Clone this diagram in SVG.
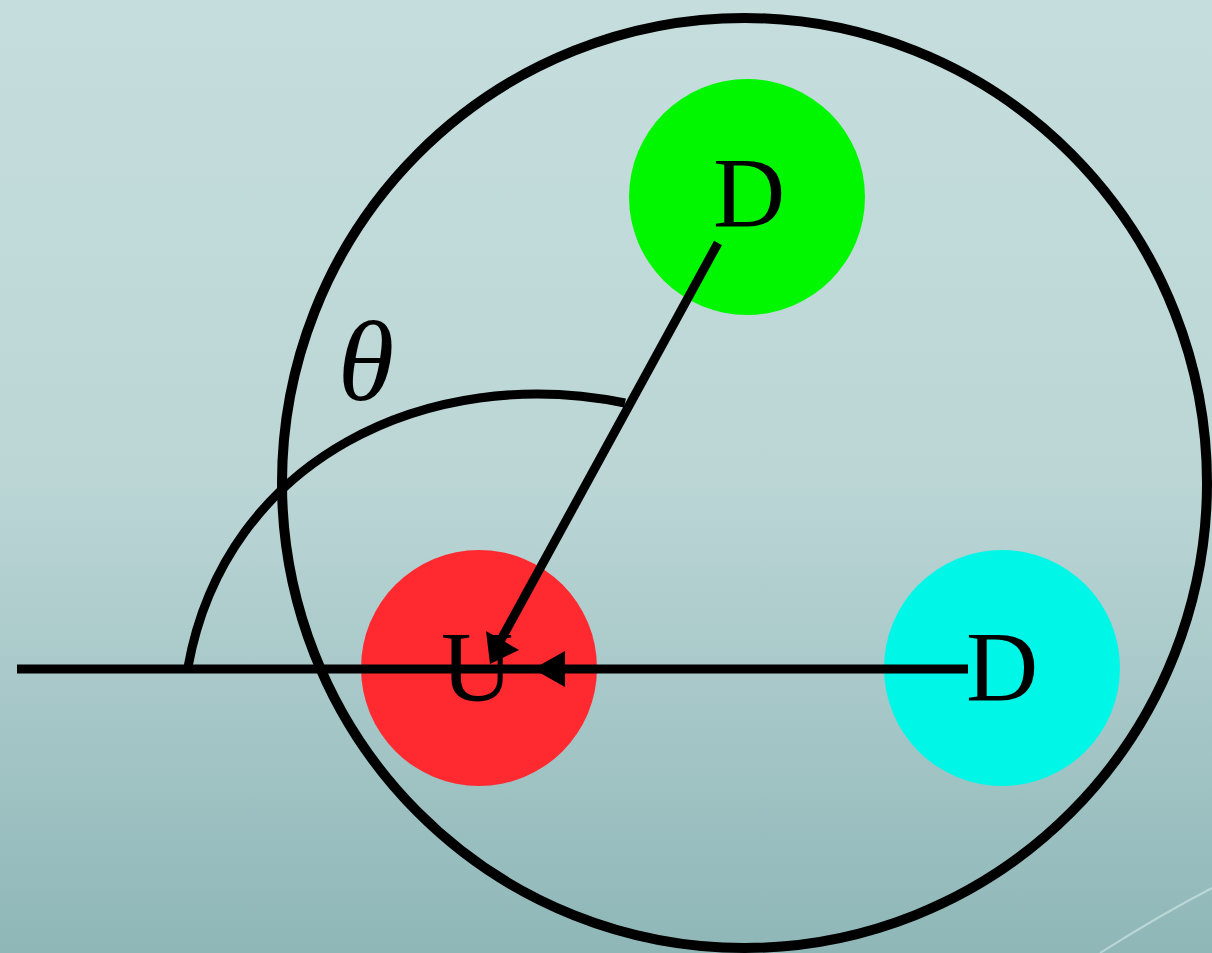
<svg xmlns="http://www.w3.org/2000/svg" width="1212" height="953" viewBox="0 0 1212 953">
<defs>
<linearGradient id="bg" x1="0" y1="0" x2="0" y2="1">
<stop offset="0" stop-color="#c5dddd"/>
<stop offset="0.5" stop-color="#bcd6d6"/>
<stop offset="1" stop-color="#8fb7b8"/>
</linearGradient>
<style>
.lbl{font-family:"Liberation Serif","DejaVu Serif",serif;font-size:100px;fill:#000;text-anchor:middle}
.ln{stroke:#000;stroke-width:9;fill:none}
</style>
</defs>
<rect width="1212" height="953" fill="url(#bg)"/>
<path d="M1100,953 Q1160,915 1212,888" stroke="#d6eaea" stroke-width="2" fill="none" opacity="0.6"/>
<g id="outer">
<ellipse cx="744.5" cy="483" rx="462.5" ry="465" fill="none" stroke="#000" stroke-width="10"/>
</g>
<g id="nodeD1">
<circle cx="747" cy="197" r="118" fill="#00f700"/>
<text class="lbl" x="749" y="226">D</text>
</g>
<g id="nodeU">
<circle cx="479" cy="668" r="118" fill="#ff2a30"/>
<text class="lbl" x="477" y="700">U</text>
</g>
<g id="nodeD2">
<circle cx="1002" cy="668" r="118" fill="#00f7e8"/>
<text class="lbl" x="1002" y="700">D</text>
</g>
<g id="connectors">
<line class="ln" x1="17" y1="669" x2="968" y2="669"/>
<polygon points="533,669 565,651 565,687" fill="#000"/>
<line class="ln" x1="718" y1="243" x2="497" y2="647" stroke-width="8"/>
<polygon points="490,664 486,631 519,650" fill="#000"/>
<path class="ln" d="M188,667 C226,458 429,363 625,403" stroke-width="8"/>
</g>
<g id="theta">
<text x="366" y="400" style="font-family:'Liberation Serif','DejaVu Serif',serif;font-style:italic;font-size:115px;text-anchor:middle">θ</text>
</g>
</svg>
